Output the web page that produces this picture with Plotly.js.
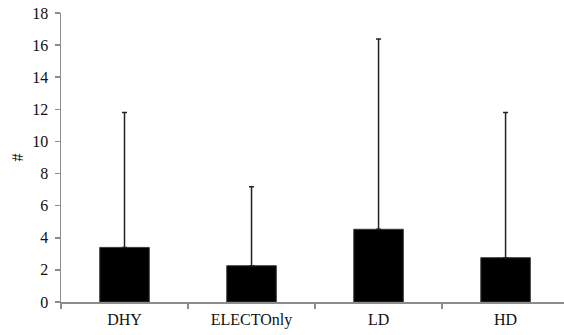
<!DOCTYPE html>
<html>
<head>
<meta charset="utf-8">
<script src="https://cdn.plot.ly/plotly-3.0.1.min.js"></script>
<style>html,body{margin:0;padding:0;background:#fff;}#chart{width:564px;height:335px;}</style>
</head>
<body>
<div id="chart"></div>
<script>
const categories = ["DHY", "ELECTOnly", "LD", "HD"];
const means = [3.4, 2.26, 4.53, 2.76];
const errorsUp = [8.4, 4.92, 11.85, 9.04];
const errorsDown = [0, 0, 0, 0];
const yTickVals = [0, 2, 4, 6, 8, 10, 12, 14, 16, 18];

const SERIF = "Liberation Serif, Times New Roman, serif";

const trace = {
  type: "bar",
  x: categories,
  y: means,
  marker: {color: "#000000", line: {color: "#3a3a3a", width: 1}},
  error_y: {type: "data", symmetric: false, array: errorsUp, arrayminus: errorsDown,
            color: "#222222", thickness: 1.5, width: 2.5, visible: true},
  hoverinfo: "skip"
};

const layout = {
  width: 564, height: 335,
  margin: {l: 61, r: 0, t: 13, b: 33, pad: 0},
  paper_bgcolor: "#ffffff", plot_bgcolor: "#ffffff",
  bargap: 0.61,
  showlegend: false,
  font: {family: SERIF, size: 16, color: "#111111"},
  xaxis: {
    type: "category", range: [-0.5, 3.46], automargin: false,
    showline: true, linecolor: "#8c8c8c", linewidth: 1.5,
    ticks: "outside", tickson: "boundaries", ticklen: 5, tickcolor: "#8c8c8c", tickwidth: 1.5,
    ticklabelstandoff: 2,
    showgrid: false, zeroline: false, fixedrange: true,
    tickfont: {family: SERIF, size: 16, color: "#111111"}
  },
  yaxis: {
    range: [0, 18], tickvals: yTickVals, ticktext: yTickVals.map(String), automargin: false,
    showline: true, linecolor: "#8c8c8c", linewidth: 1.5,
    ticks: "outside", ticklen: 5, tickcolor: "#8c8c8c", tickwidth: 1.5,
    ticklabelstandoff: 3,
    showgrid: false, zeroline: false, fixedrange: true,
    tickfont: {family: SERIF, size: 16, color: "#111111"},
    title: {text: "#", standoff: 4, font: {family: SERIF, size: 16, color: "#111111"}}
  }
};

Plotly.newPlot("chart", [trace], layout, {displayModeBar: false, staticPlot: true});
</script>
</body>
</html>
